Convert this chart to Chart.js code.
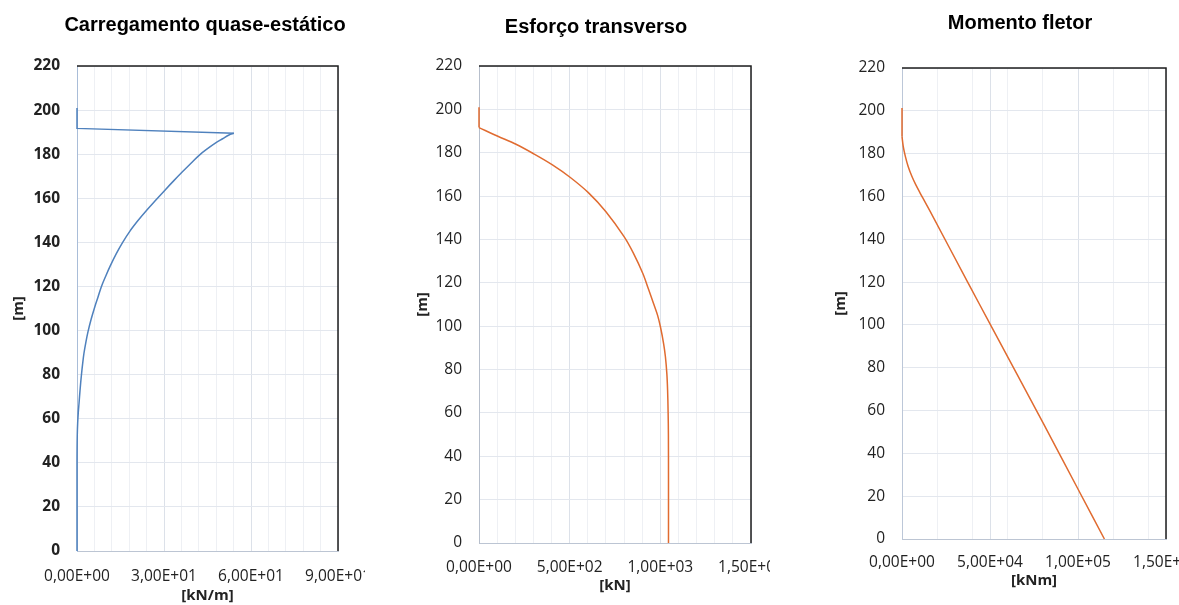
<!DOCTYPE html>
<html>
<head>
<meta charset="utf-8">
<script src="https://cdn.jsdelivr.net/npm/chart.js@4.4.1/dist/chart.umd.min.js"></script>
<style>
  html, body { margin: 0; background: #fff; }
  body { position: relative; width: 1179px; height: 605px; overflow: hidden; }
  .panel { position: absolute; top: 0; height: 605px; overflow: hidden; }
  .panel canvas { position: absolute; top: 0; left: 0; }
</style>
</head>
<body>
<div class="panel" style="left:0;width:365px"><canvas id="load-chart" width="420" height="605"></canvas></div>
<div class="panel" style="left:400px;width:370px"><canvas id="shear-chart" width="430" height="605"></canvas></div>
<div class="panel" style="left:820px;width:359px"><canvas id="moment-chart" width="430" height="605"></canvas></div>
<script>
// heights along the tower [m], from the base up
const loadHeight = [0, 20, 40, 47, 53, 58, 63, 67, 73, 79.5, 85, 89.7, 95, 99.5, 105, 110.8, 115, 119.9, 125, 129, 135, 139.9, 145, 150, 154.7, 159.2, 163.8, 168, 172, 176, 179.6, 182.5, 185, 187, 188.7, 189.5, 191.7, 201]
const loadValue = [0, 0, 0, 0.03, 0.1, 0.23, 0.45, 0.7, 1.05, 1.5, 1.95, 2.4, 3.1, 3.8, 4.85, 6.15, 7.2, 8.4, 10.0, 11.35, 13.6, 15.7, 18.2, 21.1, 24.1, 27.2, 30.4, 33.4, 36.35, 39.4, 42.2, 45.0, 47.7, 50.2, 52.4, 54.1, 0, 0]

const shearHeight = [0, 30, 50, 60, 70.6, 78, 85.9, 92, 99.5, 105, 110.6, 117, 124.4, 133.6, 141.3, 152.8, 161.6, 168.7, 174.4, 179.4, 183.9, 187.7, 191.6, 201]
const shearValue = [1045, 1045, 1044.5, 1043, 1040, 1036, 1028, 1018, 1001, 985, 962, 935, 903, 852, 800, 700, 603, 502, 405, 304, 204, 101, 0, 0]

const momentHeight = [0, 23, 54, 100, 120, 153, 157.7, 161.6, 165.5, 169.4, 174, 178.7, 183.4, 188, 201.3]
const momentValue = [115000, 100200, 80300, 50300, 37300, 16000, 12900, 10300, 7800, 5600, 3500, 1900, 700, 0, 0]

// labelled ticks on each value axis
const loadTicks = [0, 30, 60, 90]
const shearTicks = [0, 500, 1000, 1500]
const momentTicks = [0, 50000, 100000, 150000]
const heightTicks = [0, 20, 40, 60, 80, 100, 120, 140, 160, 180, 200, 220]

function sciLabel(v) {
  const [m, e] = v.toExponential(2).split('e')
  const sign = e[0] === '-' ? '-' : '+'
  return m.replace('.', ',') + 'E' + sign + e.replace(/^[+-]/, '').padStart(2, '0')
}

function gridLines(major, step) {
  const max = major[major.length - 1]
  const lines = []
  for (let i = 0; i * step <= max; i++) lines.push(i * step)
  major.forEach(v => { if (!lines.includes(v)) lines.push(v) })
  return lines.sort((a, b) => a - b)
}

// chart title plus the dark top/right frame of the plot area
const framePlugin = {
  id: 'frame',
  afterDatasetsDraw(chart, args, opts) {
    const { ctx, chartArea: a } = chart
    ctx.save()
    ctx.strokeStyle = '#1e1e1e'
    ctx.lineWidth = 1.5
    ctx.beginPath()
    ctx.moveTo(a.left, a.top)
    ctx.lineTo(a.right, a.top)
    ctx.lineTo(a.right, a.bottom)
    ctx.stroke()
    ctx.font = 'bold 20px "Liberation Sans", Arial, sans-serif'
    ctx.fillStyle = '#000'
    ctx.textAlign = 'center'
    ctx.textBaseline = 'middle'
    ctx.fillText(opts.text, opts.x, opts.y)
    ctx.restore()
  }
}

const tickFont = { family: '"Open Sans", sans-serif', size: 15.5 }
const unitFont = { family: '"Open Sans", sans-serif', size: 15, weight: 'bold' }

function buildChart(id, p) {
  const lines = gridLines(p.ticks, p.minor)
  const pts = p.heights.map((h, i) => ({ x: p.values[i], y: h }))
  // smooth profile up to the corner, straight segments above it
  const k = p.heights.indexOf(p.corner)
  const line = { showLine: true, borderColor: p.color, borderWidth: 1.5, pointRadius: 0, clip: 4 }
  return new Chart(document.getElementById(id), {
    type: 'scatter',
    data: {
      datasets: [
        Object.assign({ data: pts.slice(0, k + 1), tension: 0.35 }, line),
        Object.assign({ data: pts.slice(k), tension: 0 }, line)
      ]
    },
    options: {
      responsive: false,
      animation: false,
      layout: { padding: p.padding },
      plugins: {
        legend: { display: false },
        tooltip: { enabled: false },
        frame: { text: p.title, x: p.titleX, y: p.titleY }
      },
      scales: {
        x: {
          type: 'linear',
          min: 0,
          max: p.ticks[p.ticks.length - 1],
          afterFit: s => { s.height = p.xHeight },
          afterBuildTicks: s => { s.ticks = lines.map(v => ({ value: v })) },
          ticks: {
            autoSkip: false,
            maxRotation: 0,
            minRotation: 0,
            padding: p.xTickPad,
            color: '#222',
            font: tickFont,
            callback: v => p.ticks.includes(v) ? sciLabel(v) : ''
          },
          grid: {
            drawTicks: false,
            color: c => p.ticks.includes(c.tick && c.tick.value) ? '#dce1e9' : '#eef0f4'
          },
          border: { color: '#bcc5d3' },
          title: { display: true, text: p.unit, color: '#222', font: unitFont, padding: p.xTitlePad }
        },
        y: {
          min: 0,
          max: 220,
          afterFit: s => { s.width = p.yWidth },
          afterBuildTicks: s => { s.ticks = heightTicks.map(v => ({ value: v })) },
          ticks: {
            padding: 17,
            color: '#222',
            font: Object.assign({}, tickFont, { weight: p.boldHeights ? 'bold' : 'normal' })
          },
          grid: { drawTicks: false, color: '#e3e7ee' },
          border: { color: p.yBorder },
          title: { display: true, text: '[m]', color: '#222', font: unitFont, padding: p.yTitlePad }
        }
      }
    },
    plugins: [framePlugin]
  })
}

buildChart('load-chart', {
  title: 'Carregamento quase-estático', titleX: 205, titleY: 25,
  heights: loadHeight, values: loadValue, corner: 189.5, color: '#4f81bd',
  ticks: loadTicks, minor: 6, unit: '[kN/m]', boldHeights: true,
  padding: { top: 66, right: 82, bottom: 0, left: 0 },
  yWidth: 77, xHeight: 54, xTickPad: 16.6, xTitlePad: 0, yTitlePad: 9.6,
  yBorder: '#a9bdd8'
})

buildChart('shear-chart', {
  title: 'Esforço transverso', titleX: 196, titleY: 27,
  heights: shearHeight, values: shearValue, corner: 191.6, color: '#e06b30',
  ticks: shearTicks, minor: 100, unit: '[kN]', boldHeights: false,
  padding: { top: 66, right: 79, bottom: 0, left: 0 },
  yWidth: 79, xHeight: 62, xTickPad: 15.3, xTitlePad: 10, yTitlePad: 13.6,
  yBorder: '#b7bfcc'
})

buildChart('moment-chart', {
  title: 'Momento fletor', titleX: 200, titleY: 23,
  heights: momentHeight, values: momentValue, corner: 188, color: '#e06b30',
  ticks: momentTicks, minor: 20000, unit: '[kNm]', boldHeights: false,
  padding: { top: 68, right: 84, bottom: 0, left: 0 },
  yWidth: 82, xHeight: 66, xTickPad: 14.3, xTitlePad: 15, yTitlePad: 11.6,
  yBorder: '#bcc7d8'
})
</script>
</body>
</html>
